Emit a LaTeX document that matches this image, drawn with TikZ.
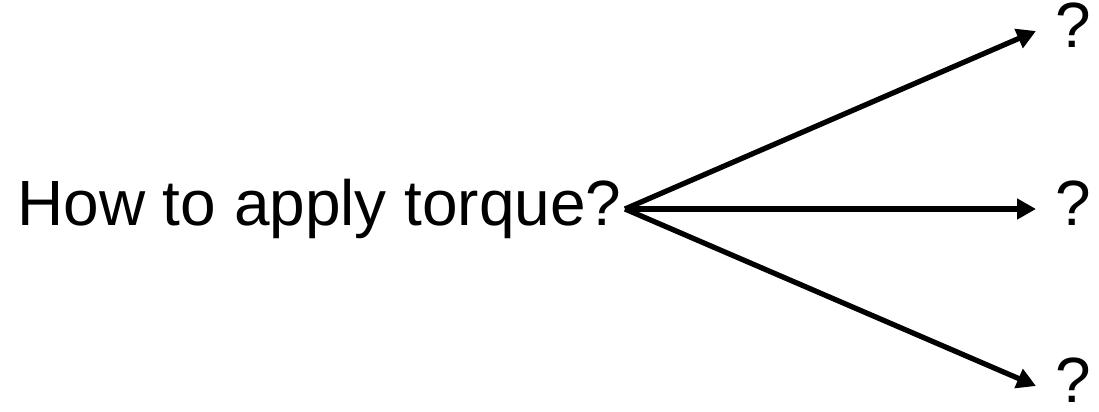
\documentclass[tikz,border=0pt]{standalone}
\usepackage{fontspec}
\setmainfont{Liberation Sans}
\usetikzlibrary{
    arrows.meta,
    calc
}

\tikzset{
    bigtext/.style={font=\fontsize{36.4}{44}\selectfont, inner ysep=0pt},
    qmark/.style={bigtext, anchor=west, inner xsep=0.38cm, text height=26pt, text depth=7pt},
    branch/.style={line width=3pt, -{Triangle[length=0.38cm,width=0.4cm]}}
}

\begin{document}
\begin{tikzpicture}[x=0.02cm,y=-0.02cm]
\useasboundingbox (0,0) rectangle (1099,412);

% Question
\node[bigtext, anchor=east, inner xsep=0.06cm] (ask) at (625,209) {How to apply torque?};

% Unknown answers
\node[qmark] (up) at (1036,31) {?};
\node[qmark] (mid) at (1036,209) {?};
\node[qmark] (down) at (1036,386) {?};

% Branches
\draw[branch] (ask.east) -- (up.west);
\draw[branch] (ask.east) -- (mid.west);
\draw[branch] (ask.east) -- (down.west);

\end{tikzpicture}
\end{document}
